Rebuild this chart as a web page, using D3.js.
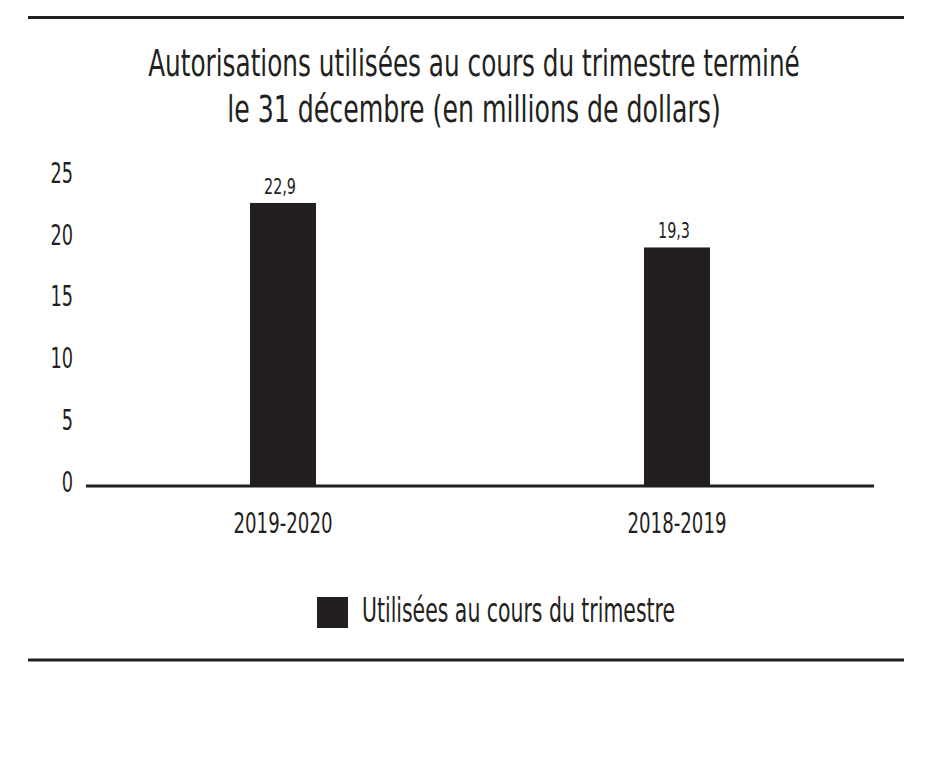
<!DOCTYPE html>
<html>
<head>
<meta charset="utf-8">
<script src="https://cdn.jsdelivr.net/npm/d3@7"></script>
<style>
  body { margin: 0; background: #fff; }
  svg { display: block; }
  text { font-family: "DejaVu Sans", sans-serif; font-stretch: condensed; fill: #231f20; }
</style>
</head>
<body>
<div id="chart"></div>
<script>
// data
const titleLines = ["Autorisations utilisées au cours du trimestre terminé", "le 31 décembre (en millions de dollars)"];
const categories = ["2019-2020", "2018-2019"];
const values = [22.9, 19.3];
const yTicks = [0, 5, 10, 15, 20, 25];
const seriesName = "Utilisées au cours du trimestre";

const W = 932, H = 768;
const ink = "#231f20";
const frLocale = d3.formatLocale({ decimal: ",", thousands: " ", grouping: [3], currency: ["", " $"] });
const fmt = frLocale.format(".1f");

// squeeze text horizontally (the original uses a condensed face)
function squeeze(sel, factor) {
    sel.each(function () {
        const len = this.getComputedTextLength();
        d3.select(this)
            .attr("textLength", len * factor)
            .attr("lengthAdjust", "spacingAndGlyphs");
    });
}

const svg = d3.select("#chart").append("svg")
    .attr("width", W)
    .attr("height", H);

svg.append("rect").attr("width", W).attr("height", H).attr("fill", "#fff");

// frame rules top and bottom
svg.append("line")
    .attr("x1", 28).attr("x2", 904).attr("y1", 17.5).attr("y2", 17.5)
    .attr("stroke", ink).attr("stroke-width", 3);
svg.append("line")
    .attr("x1", 28).attr("x2", 904).attr("y1", 660).attr("y2", 660)
    .attr("stroke", ink).attr("stroke-width", 3);

// title - scaled in x so it fits like the condensed original
const titleWidths = [652, 494];
svg.selectAll(".title")
    .data(titleLines)
    .enter().append("g")
    .attr("class", "title")
    .each(function (d, i) {
        const g = d3.select(this);
        const t = g.append("text")
            .attr("text-anchor", "middle")
            .style("font-size", "38px")
            .text(d);
        const k = titleWidths[i] / t.node().getComputedTextLength();
        g.attr("transform", "translate(474," + (76 + i * 46) + ") scale(" + k + ",1)");
    });

// scales
const x = d3.scaleBand()
    .domain(categories)
    .range([86, 874])
    .paddingInner(0.8325)
    .paddingOuter(0.41625);

const y = d3.scaleLinear()
    .domain([0, 25])
    .range([486, 177]);

// y axis labels
const yAxis = d3.axisLeft(y).tickValues(yTicks).tickSize(0).tickPadding(0).tickFormat(d3.format("d"));
const gy = svg.append("g")
    .attr("transform", "translate(73,0)")
    .call(yAxis);
gy.select(".domain").remove();
gy.selectAll("text")
    .attr("dy", "0.18em")
    .style("font-size", "29px")
    .style("font-family", null)
    .attr("fill", ink)
    .call(squeeze, 0.68);

// bars
svg.selectAll(".bar")
    .data(values)
    .enter().append("rect")
    .attr("class", "bar")
    .attr("x", (d, i) => x(categories[i]))
    .attr("width", x.bandwidth())
    .attr("y", d => y(d))
    .attr("height", d => y(0) - y(d))
    .attr("fill", ink);

// value labels
svg.selectAll(".val")
    .data(values)
    .enter().append("text")
    .attr("class", "val")
    .attr("x", (d, i) => x(categories[i]) + x.bandwidth() / 2 - 3)
    .attr("y", d => y(d) - 9)
    .attr("text-anchor", "middle")
    .style("font-size", "22px")
    .text(d => fmt(d))
    .attr("textLength", 32)
    .attr("lengthAdjust", "spacingAndGlyphs");

// baseline
svg.append("line")
    .attr("x1", x.range()[0]).attr("x2", x.range()[1])
    .attr("y1", y(0)).attr("y2", y(0))
    .attr("stroke", ink).attr("stroke-width", 3);

// x axis labels
const xAxis = d3.axisBottom(x).tickSize(0).tickPadding(0);
const gx = svg.append("g")
    .attr("transform", "translate(0,533)")
    .call(xAxis);
gx.select(".domain").remove();
gx.selectAll("text")
    .attr("dy", 0)
    .attr("y", 0)
    .style("font-size", "29px")
    .style("font-family", null)
    .attr("fill", ink)
    .attr("textLength", 99)
    .attr("lengthAdjust", "spacingAndGlyphs");

// legend
const legend = svg.append("g").attr("transform", "translate(317,597)");
legend.append("rect")
    .attr("width", 31).attr("height", 31)
    .attr("fill", ink);
legend.append("text")
    .attr("x", 45)
    .attr("y", 25)
    .style("font-size", "33px")
    .text(seriesName)
    .attr("textLength", 313)
    .attr("lengthAdjust", "spacingAndGlyphs");
</script>
</body>
</html>
